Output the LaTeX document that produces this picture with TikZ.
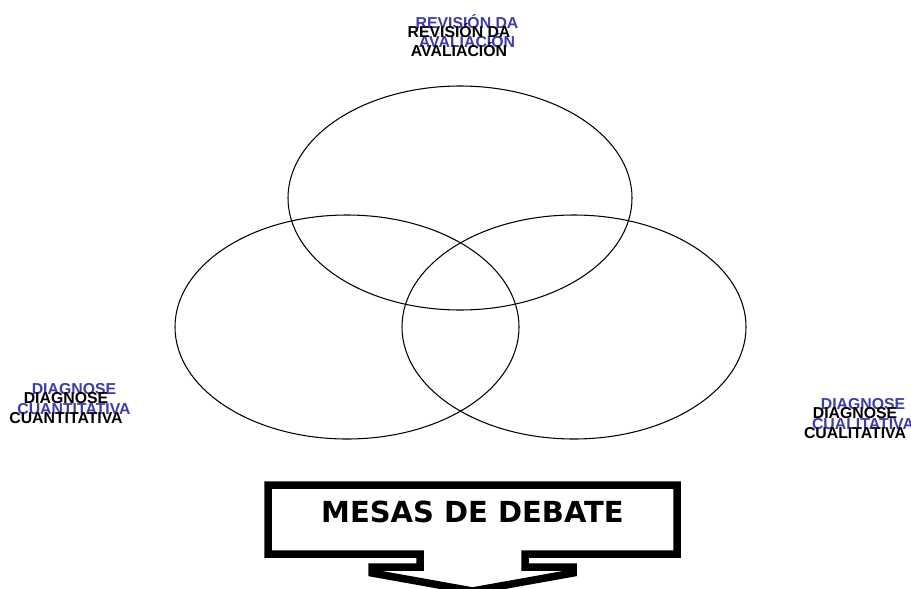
\documentclass[tikz,border=0pt]{standalone}
\usepackage{fontspec}
\setmainfont{Liberation Sans}
\newfontfamily\debatefont{DejaVu Sans}
\definecolor{venblue}{RGB}{60,60,170}

\begin{document}
\begin{tikzpicture}[x=0.02cm,y=-0.02cm,
	lbl/.style={align=center,inner sep=0pt,font=\fontsize{9}{11}\selectfont\bfseries},
	lblblue/.style={lbl,text=venblue}]
	\useasboundingbox (0,0) rectangle (911,588);
	\clip (0,0) rectangle (911,588);

	\node[lblblue] (revB) at (467,31) {REVISIÓN DA\\AVALIACIÓN};
	\node[lbl] (rev) at (459,40) {REVISIÓN DA\\AVALIACIÓN};
	\node[lblblue] (cuantB) at (74,399) {DIAGNOSE\\CUANTITATIVA};
	\node[lbl] (cuant) at (66,408) {DIAGNOSE\\CUANTITATIVA};
	\node[lblblue] (cualB) at (863,414) {DIAGNOSE\\CUALITATIVA};
	\node[lbl] (cual) at (855,423) {DIAGNOSE\\CUALITATIVA};

	\draw[line width=0.6pt] (460,198) ellipse [x radius=172, y radius=112];
	\draw[line width=0.6pt] (347,327) ellipse [x radius=172, y radius=112];
	\draw[line width=0.6pt] (574,327) ellipse [x radius=172, y radius=112];

	\draw[line width=0.15cm,miter limit=2] (268,485) -- (677,485) -- (677,554)
	-- (525,554) -- (525,567) -- (573,567) -- (573,573) -- (472.5,591)
	-- (372,573) -- (372,567) -- (420,567) -- (420,554) -- (268,554) -- cycle;
	\node (mesas) at (472.5,512) {\debatefont\bfseries\fontsize{16.5}{19}\selectfont MESAS DE DEBATE};
\end{tikzpicture}
\end{document}
